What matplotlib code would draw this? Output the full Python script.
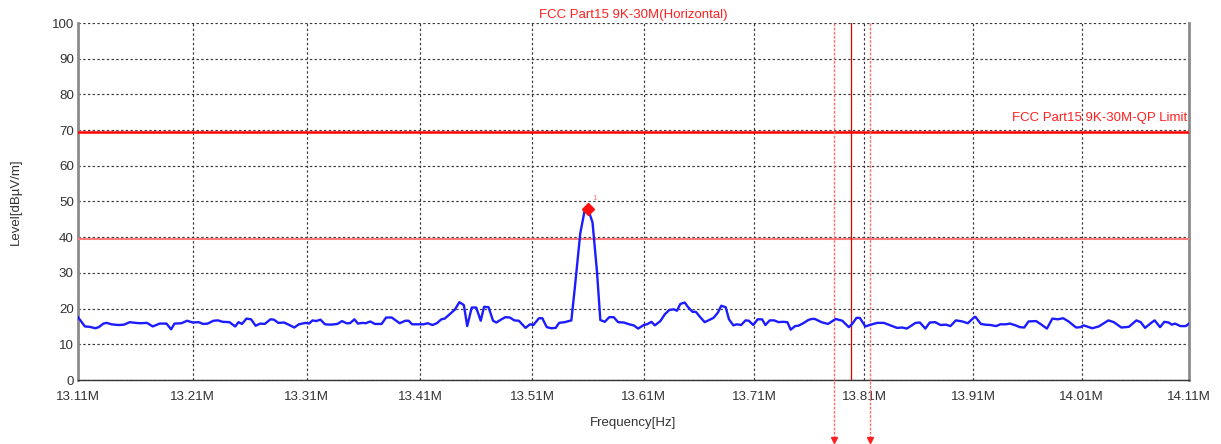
import matplotlib
matplotlib.use('Agg')
import matplotlib.pyplot as plt
import matplotlib.transforms as mtransforms

plt.rcParams['font.family'] = ['Liberation Sans', 'DejaVu Sans']

# sweep below the carrier (MHz, dBuV/m)
freq_low = [13.110, 13.116, 13.120, 13.125, 13.128, 13.132, 13.135, 13.139, 13.145, 13.150,
            13.155, 13.160, 13.164, 13.170, 13.175, 13.181, 13.187, 13.191, 13.194, 13.200,
            13.205, 13.210, 13.215, 13.219, 13.223, 13.228, 13.232, 13.236, 13.242, 13.247,
            13.250, 13.253, 13.257, 13.261, 13.265, 13.269, 13.273, 13.278, 13.281, 13.285,
            13.290, 13.294, 13.299, 13.303, 13.309, 13.312, 13.315, 13.318, 13.322, 13.326,
            13.331, 13.337, 13.341, 13.345, 13.348, 13.352, 13.355, 13.359, 13.362, 13.366,
            13.370, 13.376, 13.380, 13.385, 13.392, 13.397, 13.400, 13.403, 13.409, 13.413,
            13.417, 13.421, 13.425, 13.429, 13.432, 13.436, 13.441]
level_low = [17.6, 15.0, 14.9, 14.5, 14.8, 15.8, 16.0, 15.6, 15.4, 15.5,
             16.2, 16.0, 15.9, 16.0, 15.0, 15.8, 15.8, 14.2, 15.8, 15.9,
             16.6, 16.1, 16.2, 15.7, 15.8, 16.6, 16.7, 16.3, 16.2, 15.0,
             16.2, 15.7, 17.2, 17.0, 15.2, 15.8, 15.7, 17.0, 16.9, 16.0,
             16.1, 15.5, 14.7, 15.6, 16.0, 15.8, 16.7, 16.5, 16.9, 15.6,
             15.5, 15.7, 16.5, 15.9, 15.9, 17.0, 15.8, 16.0, 15.9, 16.4,
             15.7, 15.7, 17.5, 17.5, 15.9, 16.6, 16.6, 15.6, 15.6, 15.6,
             15.9, 15.4, 15.9, 17.0, 17.2, 18.3, 19.7]

# around the 13.56 MHz carrier
freq_mid = [13.445, 13.449, 13.452, 13.456, 13.460, 13.464, 13.467, 13.471, 13.475, 13.478,
            13.482, 13.486, 13.490, 13.494, 13.498, 13.504, 13.508, 13.511, 13.516, 13.519,
            13.523, 13.527, 13.531, 13.534, 13.539, 13.545, 13.548, 13.553, 13.557, 13.560,
            13.564, 13.568, 13.571, 13.575, 13.579, 13.583, 13.587, 13.592, 13.597, 13.601,
            13.605, 13.610, 13.613, 13.617, 13.620, 13.625, 13.629, 13.633, 13.637, 13.640,
            13.643, 13.647, 13.650, 13.654, 13.657, 13.661, 13.665, 13.669, 13.673, 13.677,
            13.680, 13.684, 13.687, 13.691, 13.694, 13.698, 13.702, 13.705, 13.709, 13.713,
            13.717, 13.720, 13.724, 13.728, 13.732, 13.736, 13.740, 13.743, 13.747, 13.750,
            13.755, 13.759, 13.762]
level_mid = [21.8, 21.0, 15.1, 20.3, 20.3, 16.6, 20.5, 20.4, 16.6, 16.1,
             16.9, 17.6, 17.5, 16.7, 16.6, 14.6, 15.6, 15.4, 17.3, 17.3,
             14.8, 14.5, 14.6, 16.0, 16.2, 16.7, 25.5, 41.1, 47.6, 47.9,
             44.1, 30.3, 16.8, 16.3, 17.6, 17.6, 16.2, 16.1, 15.6, 15.3,
             14.4, 15.4, 15.6, 16.3, 15.3, 16.5, 18.4, 19.6, 19.8, 19.4,
             21.3, 21.7, 20.4, 19.1, 19.1, 17.6, 16.2, 16.8, 17.4, 18.9,
             20.8, 20.4, 17.0, 15.3, 15.6, 15.4, 16.7, 16.6, 15.4, 17.0,
             17.0, 15.4, 16.7, 16.7, 16.2, 16.3, 16.2, 14.1, 15.1, 15.2,
             16.0, 16.8, 17.1]

# above the carrier
freq_high = [13.765, 13.771, 13.777, 13.784, 13.790, 13.796, 13.799, 13.803, 13.806, 13.811,
             13.816, 13.822, 13.828, 13.834, 13.840, 13.845, 13.849, 13.857, 13.861, 13.866,
             13.870, 13.875, 13.880, 13.885, 13.889, 13.894, 13.900, 13.905, 13.911, 13.912,
             13.917, 13.921, 13.926, 13.931, 13.935, 13.940, 13.944, 13.949, 13.953, 13.957,
             13.961, 13.968, 13.972, 13.978, 13.983, 13.988, 13.993, 13.998, 14.005, 14.009,
             14.012, 14.020, 14.026, 14.035, 14.040, 14.047, 14.054, 14.061, 14.065, 14.069,
             14.076, 14.078, 14.083, 14.087, 14.091, 14.094, 14.097, 14.102, 14.107, 14.110]
level_high = [17.1, 16.2, 15.7, 17.1, 16.6, 14.8, 15.7, 17.4, 17.4, 15.0,
              15.5, 16.0, 16.0, 15.3, 14.6, 14.7, 14.4, 16.0, 16.1, 14.4,
              16.1, 16.2, 15.4, 15.5, 15.1, 16.7, 16.4, 15.9, 17.6, 17.7,
              15.7, 15.5, 15.4, 15.1, 15.6, 15.6, 15.8, 15.3, 14.8, 14.7,
              16.4, 16.5, 15.7, 14.4, 17.2, 17.0, 17.3, 16.4, 14.7, 14.8,
              15.3, 14.5, 15.0, 16.7, 16.2, 14.7, 14.9, 16.7, 16.2, 14.6,
              16.3, 16.7, 14.8, 16.3, 16.1, 15.5, 15.8, 15.1, 15.1, 15.8]

assert len(freq_low) == len(level_low)
assert len(freq_mid) == len(level_mid)
assert len(freq_high) == len(level_high)

freq = freq_low + freq_mid + freq_high
level = level_low + level_mid + level_high

limit_qp = 69.5
limit_margin = 39.5
peak_freq, peak_level = 13.560, 47.9
band_edges = [13.782, 13.815]
center_line = 13.798

x_ticks = [13.11, 13.21, 13.31, 13.41, 13.51, 13.61, 13.71, 13.81, 13.91, 14.01, 14.11]
x_tick_labels = ['13.11M', '13.21M', '13.31M', '13.41M', '13.51M', '13.61M',
                 '13.71M', '13.81M', '13.91M', '14.01M', '14.11M']
y_ticks = list(range(0, 101, 10))

W, H = 1221, 444
fig = plt.figure(figsize=(W / 100, H / 100), dpi=100)
ax = fig.add_axes([78 / W, 64 / H, 1111 / W, 357 / H])

ax.set_xscale('log')
ax.set_xlim(13.11, 14.11)
ax.set_ylim(0, 100)
ax.set_xticks(x_ticks)
ax.set_xticklabels(x_tick_labels)
ax.minorticks_off()
ax.set_yticks(y_ticks)
ax.tick_params(length=0, labelsize=9.6, labelcolor='#333333')
ax.tick_params(axis='x', pad=8)
ax.tick_params(axis='y', pad=3)

ax.grid(True, color='#383838', linestyle=(0, (2, 2)), linewidth=0.85)
ax.set_axisbelow(True)

ax.spines['top'].set_visible(False)
for side in ['left', 'right']:
    ax.spines[side].set_color('#8c8c8c')
    ax.spines[side].set_linewidth(2)
ax.spines['bottom'].set_color('#333333')
ax.spines['bottom'].set_linewidth(1)

# limit lines
ax.axhline(limit_qp, color='#ff0000', lw=1.8, zorder=3)
ax.axhline(limit_margin, color='#ff7b7b', lw=1.5, zorder=3)
ax.text(0.998, limit_qp + 3.9, 'FCC Part15 9K-30M-QP Limit', color='#ff2020',
        fontsize=9.5, ha='right', va='center',
        transform=mtransforms.blended_transform_factory(ax.transAxes, ax.transData))

# band markers
trans = mtransforms.blended_transform_factory(ax.transData, ax.transAxes)
ax.axvline(center_line, color='#e00000', lw=0.9, zorder=3)
for f in band_edges:
    ax.plot([f, f], [1.0, -0.165], transform=trans, color='#ff7070',
            linestyle=(0, (2, 1)), lw=1.0, clip_on=False, zorder=3)
    ax.plot([f], [-0.168], transform=trans, marker='v', ms=4.5,
            color='#ff2020', clip_on=False, zorder=3)

# trace
ax.plot(freq, level, color='#1c1cff', lw=1.7, zorder=4)

# peak marker
ax.plot([peak_freq], [peak_level], marker='D', ms=6, color='#ff1010',
        linestyle='none', zorder=5)
ax.text(peak_freq * 1.00025, peak_level + 3.0, '1', color='#ff8080',
        fontsize=6, ha='left', va='center', zorder=5)

ax.text(0.5, 1.0224, 'FCC Part15 9K-30M(Horizontal)', color='#ff2020',
        fontsize=9.5, ha='center', va='center', transform=ax.transAxes)
fig.text((78 + 555.5) / W, 1 - 423 / H, 'Frequency[Hz]', color='#333333',
         fontsize=9.5, ha='center', va='center')
fig.text(16 / W, 1 - 201.5 / H, 'Level[dBµV/m]', color='#333333',
         fontsize=9.5, ha='center', va='center', rotation=90)

fig.savefig('out.png', dpi=100)
